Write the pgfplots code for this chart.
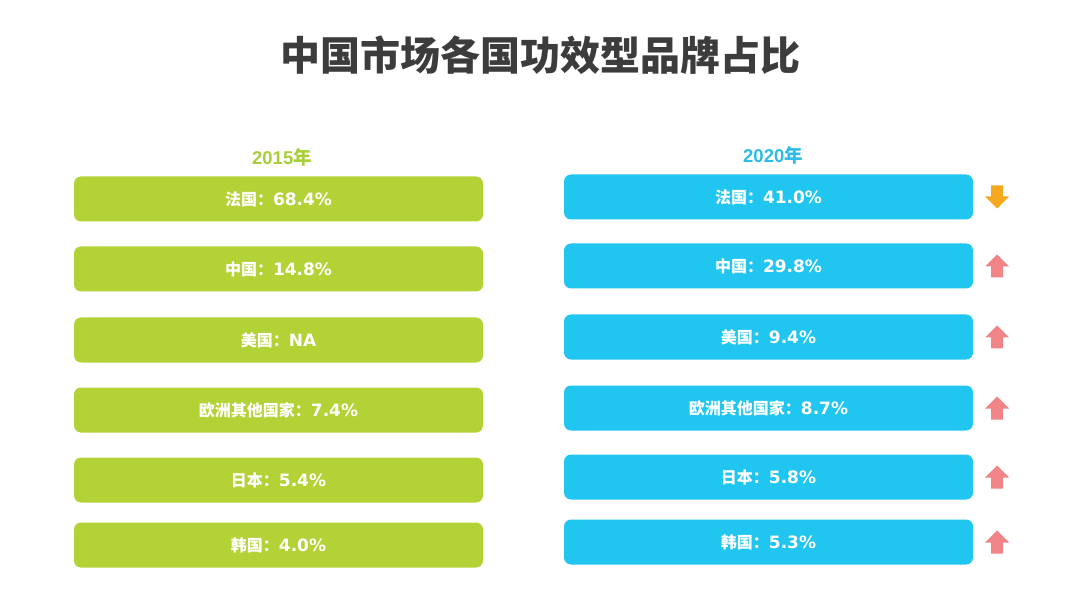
\documentclass[border=0pt]{standalone}
\usepackage{fontspec}
\usepackage{pgfplots}
\pgfplotsset{compat=1.18}
\usepackage{pgfplotstable}
\setmainfont{DejaVu Sans}
\newfontfamily\cjk{Noto Sans CJK SC}
\newfontfamily\arial{Liberation Sans}
\protected\def\zh#1{{\cjk\bfseries\fontsize{16}{19}\selectfont #1}}

\definecolor{boxgreen}{HTML}{B2D235}
\definecolor{boxblue}{HTML}{20C6F0}
\definecolor{yeargreen}{HTML}{A8CF38}
\definecolor{yearblue}{HTML}{2DBBE8}
\definecolor{uppink}{HTML}{F08486}
\definecolor{downorange}{HTML}{F6A81E}
\definecolor{titlegray}{HTML}{3C3C3C}

% block arrows as plot marks
\pgfdeclareplotmark{uparrow}{%
  \pgfpathmoveto{\pgfqpoint{0pt}{11.5pt}}%
  \pgfpathlineto{\pgfqpoint{12pt}{-0.5pt}}%
  \pgfpathlineto{\pgfqpoint{6pt}{-0.5pt}}%
  \pgfpathlineto{\pgfqpoint{6pt}{-11.5pt}}%
  \pgfpathlineto{\pgfqpoint{-6pt}{-11.5pt}}%
  \pgfpathlineto{\pgfqpoint{-6pt}{-0.5pt}}%
  \pgfpathlineto{\pgfqpoint{-12pt}{-0.5pt}}%
  \pgfpathclose
  \pgfusepathqfill}
\pgfdeclareplotmark{downarrow}{%
  \pgfpathmoveto{\pgfqpoint{0pt}{-11.5pt}}%
  \pgfpathlineto{\pgfqpoint{12pt}{0.5pt}}%
  \pgfpathlineto{\pgfqpoint{6pt}{0.5pt}}%
  \pgfpathlineto{\pgfqpoint{6pt}{11.5pt}}%
  \pgfpathlineto{\pgfqpoint{-6pt}{11.5pt}}%
  \pgfpathlineto{\pgfqpoint{-6pt}{0.5pt}}%
  \pgfpathlineto{\pgfqpoint{-12pt}{0.5pt}}%
  \pgfpathclose
  \pgfusepathqfill}

\pgfplotstableread{
x y label
278.5 199 \zh{法国：}68.4\%
278.5 269 \zh{中国：}14.8\%
278.5 340 \zh{美国：}NA
278.5 410 \zh{欧洲其他国家：}7.4\%
278.5 480 \zh{日本：}5.4\%
278.5 545 \zh{韩国：}4.0\%
}\lefttable

\pgfplotstableread{
x y label
768.5 197 \zh{法国：}41.0\%
768.5 266 \zh{中国：}29.8\%
768.5 337 \zh{美国：}9.4\%
768.5 408 \zh{欧洲其他国家：}8.7\%
768.5 477 \zh{日本：}5.8\%
768.5 542 \zh{韩国：}5.3\%
}\righttable

\pgfplotstableread{
x y
997 266
997 337
997 408
997 477
997 542
}\uptable

\pgfplotstableread{
x y
997 197
}\downtable

\begin{document}
\begin{tikzpicture}
\begin{axis}[
  width=1081pt, height=593pt, scale only axis,
  xmin=0, xmax=1081, ymin=0, ymax=593,
  y dir=reverse,
  axis lines=none, ticks=none, clip=false,
  axis background/.style={fill=white},
  box/.style={
    draw=none, mark=none,
    nodes near coords, point meta=explicit symbolic,
    nodes near coords align={center},
    every node near coord/.append style={
      fill=#1, rounded corners=7pt, minimum width=409pt, minimum height=45pt,
      inner sep=0pt, text=white, anchor=center,
      font=\bfseries\fontsize{17}{20}\selectfont},
  },
]
\addplot[box=boxgreen] table[x=x, y=y, meta=label] {\lefttable};
\addplot[box=boxblue] table[x=x, y=y, meta=label] {\righttable};
\addplot[only marks, mark=uparrow, color=uppink] table[x=x, y=y] {\uptable};
\addplot[only marks, mark=downarrow, color=downorange] table[x=x, y=y] {\downtable};

\node[text=titlegray, font=\cjk\bfseries\fontsize{40}{44}\selectfont] at (axis cs:540,55) {中国市场各国功效型品牌占比};
\node[text=yeargreen, font=\bfseries\fontsize{18.5}{22}\selectfont] at (axis cs:282,157) {{\arial 2015}\zh{\fontsize{18.5}{22}\selectfont 年}};
\node[text=yearblue, font=\bfseries\fontsize{18.5}{22}\selectfont] at (axis cs:773,155) {{\arial 2020}\zh{\fontsize{18.5}{22}\selectfont 年}};
\end{axis}
\end{tikzpicture}
\end{document}
